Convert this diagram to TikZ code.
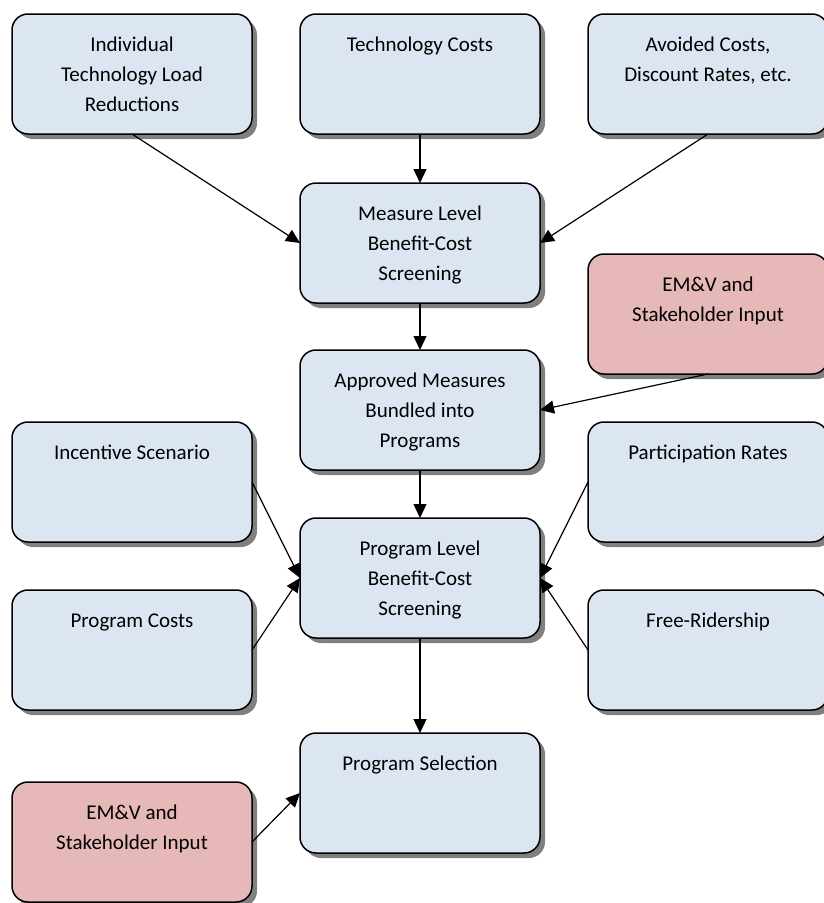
\documentclass[tikz,border=0pt]{standalone}
\usepackage{fontspec}
\setmainfont{Carlito}
\usetikzlibrary{arrows.meta,shadows}
\definecolor{boxblue}{RGB}{220,230,242}
\definecolor{boxred}{RGB}{230,185,184}
\definecolor{shadowgray}{RGB}{128,128,128}
\newcommand{\bxt}[1]{\parbox[c][120pt][t]{240pt}{\centering\fontsize{21}{30}\selectfont\vspace*{16pt}\strut #1\par}}
\tikzset{
  bx/.style={draw=black, line width=1.5pt, rounded corners=16pt, fill=boxblue,
    minimum width=240pt, minimum height=120pt, inner sep=0pt, outer sep=0pt,
    drop shadow={shadow xshift=5pt, shadow yshift=-5pt, fill=shadowgray, opacity=1}},
  bxred/.style={bx, fill=boxred},
  conn/.style={draw=black, line width=1.2pt, -{Triangle[length=14pt,width=13pt]}}
}
\begin{document}
\begin{tikzpicture}
\useasboundingbox (0pt,0pt) rectangle (823pt,-903pt);
\node[bx] (ind) at (132pt,-74pt) {\bxt{Individual\\Technology Load\\Reductions}};
\node[bx] (tech) at (420pt,-74pt) {\bxt{Technology Costs}};
\node[bx] (avoid) at (708pt,-74pt) {\bxt{Avoided Costs,\\Discount Rates, etc.}};
\node[bx] (meas) at (420pt,-243pt) {\bxt{Measure Level\\Benefit-Cost\\Screening}};
\node[bxred] (emvA) at (708pt,-314pt) {\bxt{EM\&V and\\Stakeholder Input}};
\node[bx] (appr) at (420pt,-410pt) {\bxt{Approved Measures\\Bundled into\\Programs}};
\node[bx] (inc) at (132pt,-482pt) {\bxt{Incentive Scenario}};
\node[bx] (part) at (708pt,-482pt) {\bxt{Participation Rates}};
\node[bx] (plev) at (420pt,-578pt) {\bxt{Program Level\\Benefit-Cost\\Screening}};
\node[bx] (pcost) at (132pt,-650pt) {\bxt{Program Costs}};
\node[bx] (free) at (708pt,-650pt) {\bxt{Free-Ridership}};
\node[bx] (psel) at (420pt,-793pt) {\bxt{Program Selection}};
\node[bxred] (emvB) at (132pt,-842pt) {\bxt{EM\&V and\\Stakeholder Input}};
\draw[conn] (ind.south) -- (meas.west);
\draw[conn] (tech.south) -- (meas.north);
\draw[conn] (avoid.south) -- (meas.east);
\draw[conn] (meas.south) -- (appr.north);
\draw[conn] (emvA.south) -- (appr.east);
\draw[conn] (appr.south) -- (plev.north);
\draw[conn] (inc.east) -- (plev.west);
\draw[conn] (pcost.east) -- (plev.west);
\draw[conn] (part.west) -- (plev.east);
\draw[conn] (free.west) -- (plev.east);
\draw[conn] (plev.south) -- (psel.north);
\draw[conn] (emvB.east) -- (psel.west);
\end{tikzpicture}
\end{document}
